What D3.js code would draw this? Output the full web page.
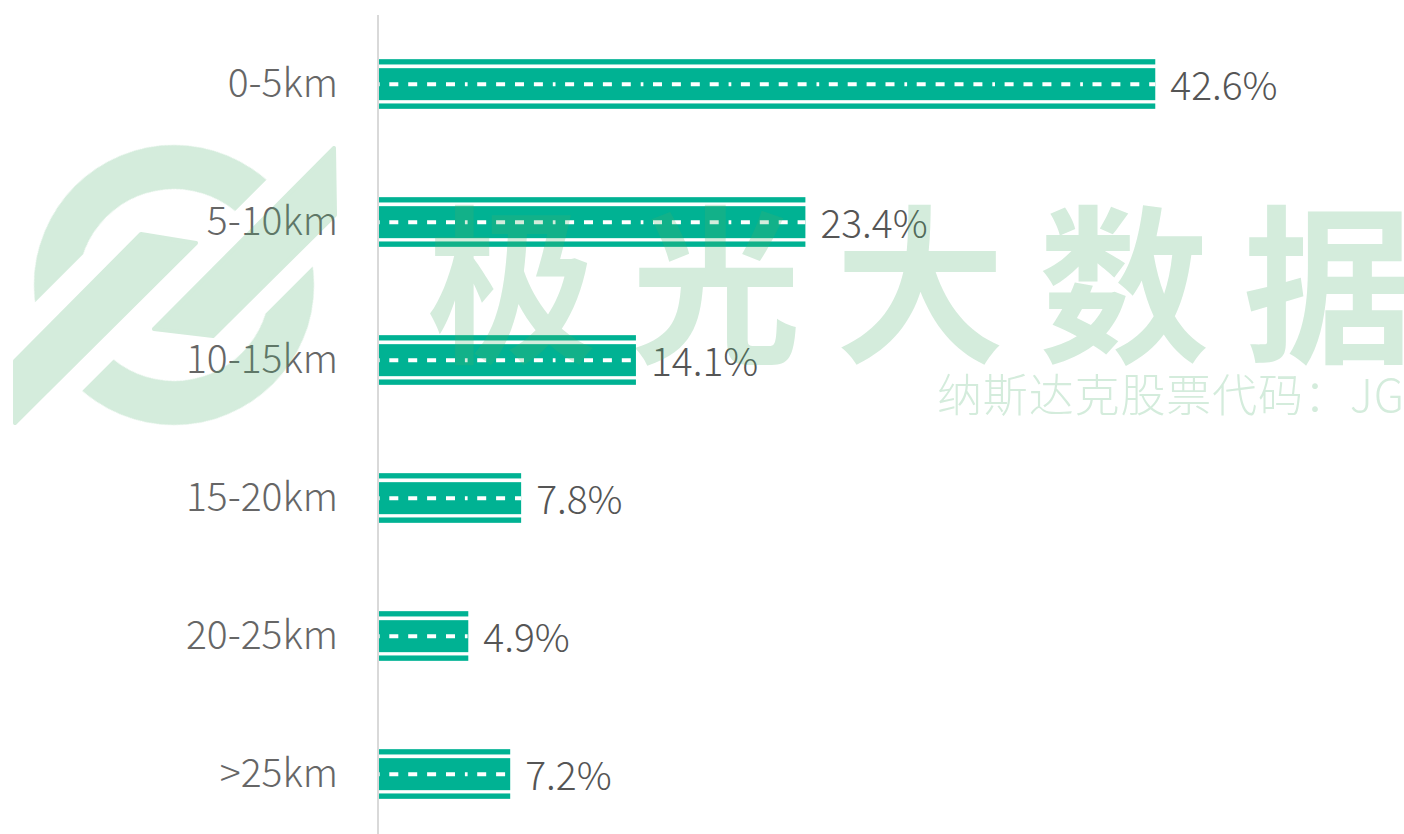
<!DOCTYPE html>
<html>
<head>
<meta charset="utf-8">
<script src="https://cdn.jsdelivr.net/npm/d3@7"></script>
<style>
    html, body { margin: 0; padding: 0; background: #fff; }
    svg { display: block; }
    .cat { font-family: "Noto Sans CJK SC", "Noto Sans", sans-serif; font-weight: 300; fill: #666; }
    .val { font-family: "Noto Sans CJK SC", "Noto Sans", sans-serif; font-weight: 300; fill: #555; }
</style>
</head>
<body>
<svg id="chart" width="1404" height="834"></svg>
<script>
// commute distance share
const categories = ["0-5km", "5-10km", "10-15km", "15-20km", "20-25km", ">25km"];
const shares = [42.6, 23.4, 14.1, 7.8, 4.9, 7.2];

const barColor = "#00b293";
const markColor = "rgb(75,175,108)";

const svg = d3.select("#chart");
const width = 1404;
const height = 834;

const x = d3.scaleLinear().domain([0, 45]).range([379, 1199]);
const y = d3.scaleBand()
    .domain(categories)
    .range([15, 843])
    .paddingInner(0.64)
    .paddingOuter(0.32);

const rows = categories.map((c, i) => ({ cat: c, v: shares[i] }));
const bw = y.bandwidth();

// axis line
svg.append("line")
    .attr("x1", 378).attr("x2", 378)
    .attr("y1", 15).attr("y2", height)
    .attr("stroke", "#d9d9d9")
    .attr("stroke-width", 2);

// bars drawn like a road: two thin edges, a body and a dashed centre line
const bars = svg.append("g").selectAll("g")
    .data(rows)
    .join("g")
    .attr("transform", d => `translate(0,${y(d.cat)})`);

bars.append("rect")
    .attr("x", x(0)).attr("y", 0)
    .attr("width", d => x(d.v) - x(0))
    .attr("height", 5.3)
    .attr("fill", barColor);

bars.append("rect")
    .attr("x", x(0)).attr("y", 9)
    .attr("width", d => x(d.v) - x(0))
    .attr("height", 32)
    .attr("fill", barColor);

bars.append("rect")
    .attr("x", x(0)).attr("y", 44.3)
    .attr("width", d => x(d.v) - x(0))
    .attr("height", bw - 44.3)
    .attr("fill", barColor);

bars.append("line")
    .attr("x1", x(0))
    .attr("x2", d => x(d.v))
    .attr("y1", 25).attr("y2", 25)
    .attr("stroke", "#fff")
    .attr("stroke-width", 4)
    .attr("stroke-dasharray", "9 9.9 9 9.9 9 9.9 9 9.9 2.7 9.6")
    .attr("stroke-dashoffset", 77.6);

// category labels
svg.append("g").selectAll("text")
    .data(rows)
    .join("text")
    .attr("class", "cat")
    .attr("x", 338)
    .attr("y", d => y(d.cat) + bw / 2 + 12.9)
    .attr("text-anchor", "end")
    .attr("font-size", 39)
    .text(d => d.cat);

// value labels
svg.append("g").selectAll("text")
    .data(rows)
    .join("text")
    .attr("class", "val")
    .attr("x", d => x(d.v) + 15)
    .attr("y", d => y(d.cat) + bw / 2 + 15.7)
    .attr("font-size", 39)
    .text(d => d.v.toFixed(1) + "%");

// watermark on top, semi transparent
const mark = svg.append("g").attr("opacity", 0.24);

const logo = mark.append("g")
    .attr("fill", markColor)
    .attr("stroke", markColor)
    .attr("stroke-width", 4)
    .attr("stroke-linejoin", "round");

const defs = svg.append("defs");
defs.append("clipPath").attr("id", "ringTop")
    .append("polygon")
    .attr("points", "-200,-200 200,-200 200,-9 0,-9 0,-86 -200,-86");
defs.append("clipPath").attr("id", "ringBottom")
    .append("polygon")
    .attr("points", "-200,10 0,10 0,85 200,85 200,200 -200,200");

const ring = logo.append("g").attr("transform", "translate(174,285) rotate(-45)");
const ro = 140, ri = 96;
const ringPath = `M${ro},0A${ro},${ro} 0 1,1 ${-ro},0A${ro},${ro} 0 1,1 ${ro},0Z` +
    `M${ri},0A${ri},${ri} 0 1,0 ${-ri},0A${ri},${ri} 0 1,0 ${ri},0Z`;
ring.append("path").attr("d", ringPath).attr("clip-path", "url(#ringTop)").attr("stroke", "none");
ring.append("path").attr("d", ringPath).attr("clip-path", "url(#ringBottom)").attr("stroke", "none");

logo.append("polygon").attr("points", "15,361 141,234 196,243 15,423");
logo.append("polygon").attr("points", "154,329 334,148 335,215 213,336");

mark.append("text")
    .attr("x", 427)
    .attr("y", 350)
    .attr("fill", markColor)
    .attr("font-family", "'Noto Sans CJK SC', sans-serif")
    .attr("font-weight", 700)
    .attr("font-size", 170)
    .attr("letter-spacing", 34)
    .text("极光大数据");

mark.append("text")
    .attr("x", 937)
    .attr("y", 412)
    .attr("fill", markColor)
    .attr("font-family", "'Noto Sans CJK SC', sans-serif")
    .attr("font-weight", 300)
    .attr("font-size", 45)
    .attr("textLength", 467)
    .attr("lengthAdjust", "spacing")
    .text("纳斯达克股票代码：JG");
</script>
</body>
</html>
